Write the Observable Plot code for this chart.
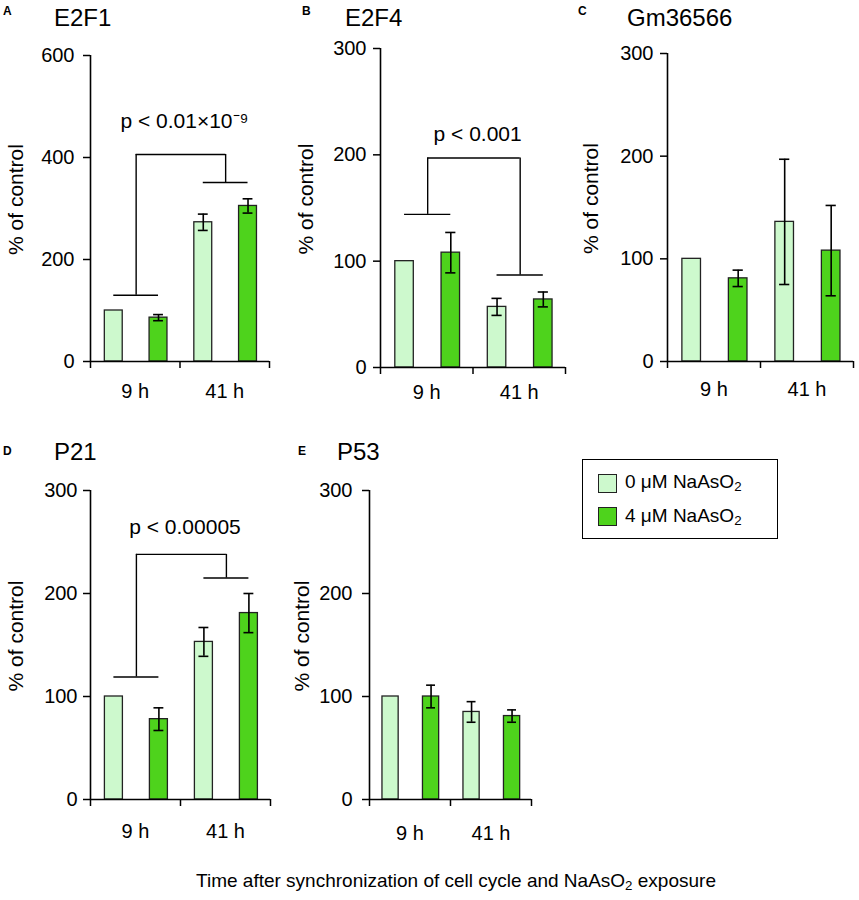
<!DOCTYPE html>
<html>
<head>
<meta charset="utf-8">
<script src="https://cdn.jsdelivr.net/npm/d3@7"></script>
<script src="https://cdn.jsdelivr.net/npm/@observablehq/plot@0.6"></script>
<style>
  html, body { margin: 0; padding: 0; background: #fff; }
  #fig { position: relative; width: 859px; height: 900px; background: #fff; font-family: "Liberation Sans", Arial, sans-serif; color: #000; overflow: hidden; }
  .abs { position: absolute; white-space: nowrap; line-height: 1; }
  .letter { font-weight: bold; font-size: 12px; }
  .title { font-size: 24px; }
  sub { font-size: 0.7em; vertical-align: -0.25em; line-height: 0; }
</style>
</head>
<body>
<div id="fig"></div>
<script>
// ---------- data ----------
const genes   = ["E2F1", "E2F4", "Gm36566", "P21", "P53"];
const letters = ["A", "B", "C", "D", "E"];
const times   = ["9 h", "41 h"];
const doses   = ["0 μM NaAsO<sub>2</sub>", "4 μM NaAsO<sub>2</sub>"];
const yMax    = [600, 300, 300, 300, 300];
const yTicksA = [0, 200, 400, 600];
const yTicksB = [0, 100, 200, 300];

// order: [9 h / 0 μM, 9 h / 4 μM, 41 h / 0 μM, 41 h / 4 μM]
const e2f1Mean = [100, 86, 273, 305];
const e2f1Err  = [0, 6, 16, 14];
const e2f4Mean = [100, 108, 57, 64];
const e2f4Err  = [0, 19, 8, 7];
const gmMean   = [100, 81, 136, 108];
const gmErr    = [0, 8, 61, 44];
const p21Mean  = [100, 78, 153, 181];
const p21Err   = [0, 11, 14, 19];
const p53Mean  = [100, 100, 85, 81];
const p53Err   = [0, 11, 10, 6];

// significance brackets: [left group level, top level, right group level]
const e2f1Bracket = [130, 406, 351];
const e2f4Bracket = [144, 197, 87];
const p21Bracket  = [119, 238, 215];
const pLabels     = ["p < 0.01×10⁻⁹", "p < 0.001", null, "p < 0.00005", null];
const pLabelY     = [472, 219, null, 264, null];

// ---------- style / layout ----------
const colors = ["#cdf9cd", "#4ed31c"];
const font = '"Liberation Sans", Arial, sans-serif';
const barOffset = [0.16, 0.66];
const barW = 0.2;
const capHalf = 0.055;
const bracketHalf = 0.25;

const means = [e2f1Mean, e2f4Mean, gmMean, p21Mean, p53Mean];
const errs  = [e2f1Err, e2f4Err, gmErr, p21Err, p53Err];
const brackets = [e2f1Bracket, e2f4Bracket, null, p21Bracket, null];
const yTicks = [yTicksA, yTicksB, yTicksB, yTicksB, yTicksB];

// page geometry for each panel
const geo = [
  {L: 0,   T: 0,   ax0: 90,  ax1: 269, y0: 361, yTop: 55,  mr: 10, tp: 9,  lp: 22, ldx: -74},
  {L: 290, T: 0,   ax0: 380, ax1: 565, y0: 367, yTop: 48,  mr: 10, tp: 7,  lp: 17, ldx: -74},
  {L: 575, T: 0,   ax0: 667, ax1: 853, y0: 361, yTop: 53,  mr: 5,  tp: 7,  lp: 20, ldx: -76},
  {L: 0,   T: 410, ax0: 90,  ax1: 270, y0: 799, yTop: 490, mr: 10, tp: 6,  lp: 24, ldx: -74},
  {L: 280, T: 410, ax0: 369, ax1: 531, y0: 799, yTop: 490, mr: 10, tp: 10, lp: 26, ldx: -67}
];
const titlePos  = [[54, 26], [345, 26], [627, 26], [54, 460], [337, 460]];
const letterPos = [[3, 15], [302, 15], [578, 15], [3, 455], [298, 455]];

const fig = document.getElementById("fig");

function addText(html, cls, x, baseline, size) {
  const d = document.createElement("div");
  d.className = "abs " + cls;
  d.innerHTML = html;
  d.style.left = x + "px";
  d.style.top = (baseline - 0.85 * size) + "px";
  fig.appendChild(d);
  return d;
}

genes.forEach((gene, i) => {
  const g = geo[i];
  const rows = means[i].map((m, k) => {
    const t = Math.floor(k / 2), d = k % 2;
    const x1 = t + barOffset[d];
    return {t, d, mean: m, err: errs[i][k], x1, x2: x1 + barW, xc: x1 + barW / 2};
  });
  const withErr = rows.filter(r => r.err > 0);
  const caps = withErr.flatMap(r => [r.mean - r.err, r.mean + r.err].map(y => ({y, xa: r.xc - capHalf, xb: r.xc + capHalf})));

  const marks = [
    Plot.rectY(rows, {x1: "x1", x2: "x2", y1: 0, y2: "mean", fill: r => colors[r.d], stroke: "#222", strokeWidth: 1.3}),
    Plot.ruleX(withErr, {x: "xc", y1: r => r.mean - r.err, y2: r => r.mean + r.err, stroke: "#000", strokeWidth: 1.6}),
    Plot.ruleY(caps, {y: "y", x1: "xa", x2: "xb", stroke: "#000", strokeWidth: 1.6}),
    Plot.ruleX([0], {y1: 0, y2: yMax[i], stroke: "#000", strokeWidth: 1.6}),
    Plot.ruleY([0], {x1: 0, x2: 2, stroke: "#000", strokeWidth: 1.6}),
    Plot.axisY({ticks: yTicks[i], tickSize: 7, tickPadding: g.tp, tickFormat: d => String(d), fontSize: 20, strokeWidth: 1.5}),
    Plot.axisX({ticks: [0, 1, 2], tickSize: 7, tickFormat: () => "", strokeWidth: 1.5}),
    Plot.axisX({ticks: [0.5, 1.5], tickSize: 0, tickPadding: g.lp, tickFormat: d => times[Math.floor(d)], fontSize: 20}),
    Plot.text(["% of control"], {frameAnchor: "left", textAnchor: "middle", lineAnchor: "middle", rotate: -90, dx: g.ldx, dy: -9, fontSize: 21, fill: "#000"})
  ];

  const b = brackets[i];
  if (b) {
    const c = [0, 1].map(t => (rows[2 * t].xc + rows[2 * t + 1].xc) / 2);
    const horiz = [
      {y: b[0], xa: c[0] - bracketHalf, xb: c[0] + bracketHalf},
      {y: b[2], xa: c[1] - bracketHalf, xb: c[1] + bracketHalf},
      {y: b[1], xa: c[0], xb: c[1]}
    ];
    const vert = [
      {x: c[0], ya: b[0], yb: b[1]},
      {x: c[1], ya: b[2], yb: b[1]}
    ];
    marks.push(Plot.ruleY(horiz, {y: "y", x1: "xa", x2: "xb", stroke: "#000", strokeWidth: 1.4}));
    marks.push(Plot.ruleX(vert, {x: "x", y1: "ya", y2: "yb", stroke: "#000", strokeWidth: 1.4}));
    marks.push(Plot.text([pLabels[i]], {x: (c[0] + c[1]) / 2 + 0.04, y: pLabelY[i], fontSize: 21, fill: "#000", textAnchor: "middle"}));
  }

  const W = g.ax1 - g.L + g.mr;
  const H = g.y0 - g.T + 45;
  const svg = Plot.plot({
    width: W, height: H,
    marginLeft: g.ax0 - g.L, marginRight: g.mr,
    marginTop: g.yTop - g.T, marginBottom: 45,
    x: {type: "linear", domain: [0, 2], axis: null},
    y: {type: "linear", domain: [0, yMax[i]], axis: null},
    style: {fontFamily: font, fontSize: "20px", color: "#000", background: "transparent", overflow: "visible"},
    marks
  });
  svg.style.position = "absolute";
  svg.style.left = g.L + "px";
  svg.style.top = g.T + "px";
  fig.appendChild(svg);

  addText(gene, "title", titlePos[i][0], titlePos[i][1], 24);
  addText(letters[i], "letter", letterPos[i][0], letterPos[i][1], 12);
});

// legend
const leg = document.createElement("div");
leg.className = "abs";
Object.assign(leg.style, {left: "582px", top: "459px", width: "194px", height: "78px", border: "1.6px solid #000", background: "#fff"});
fig.appendChild(leg);
doses.forEach((lab, k) => {
  const sw = document.createElement("div");
  sw.className = "abs";
  Object.assign(sw.style, {left: "598px", top: (474 + 33 * k) + "px", width: "17px", height: "17px", background: colors[k], border: "1.5px solid #222"});
  fig.appendChild(sw);
  const t = addText(lab, "", 625, 488 + 34 * k, 19);
  t.style.fontSize = "19px";
});

// caption
const cap = addText("Time after synchronization of cell cycle and NaAsO<sub>2</sub> exposure", "", 0, 887, 19);
cap.style.fontSize = "19px";
cap.style.left = "456px";
cap.style.transform = "translateX(-50%)";
</script>
</body>
</html>
